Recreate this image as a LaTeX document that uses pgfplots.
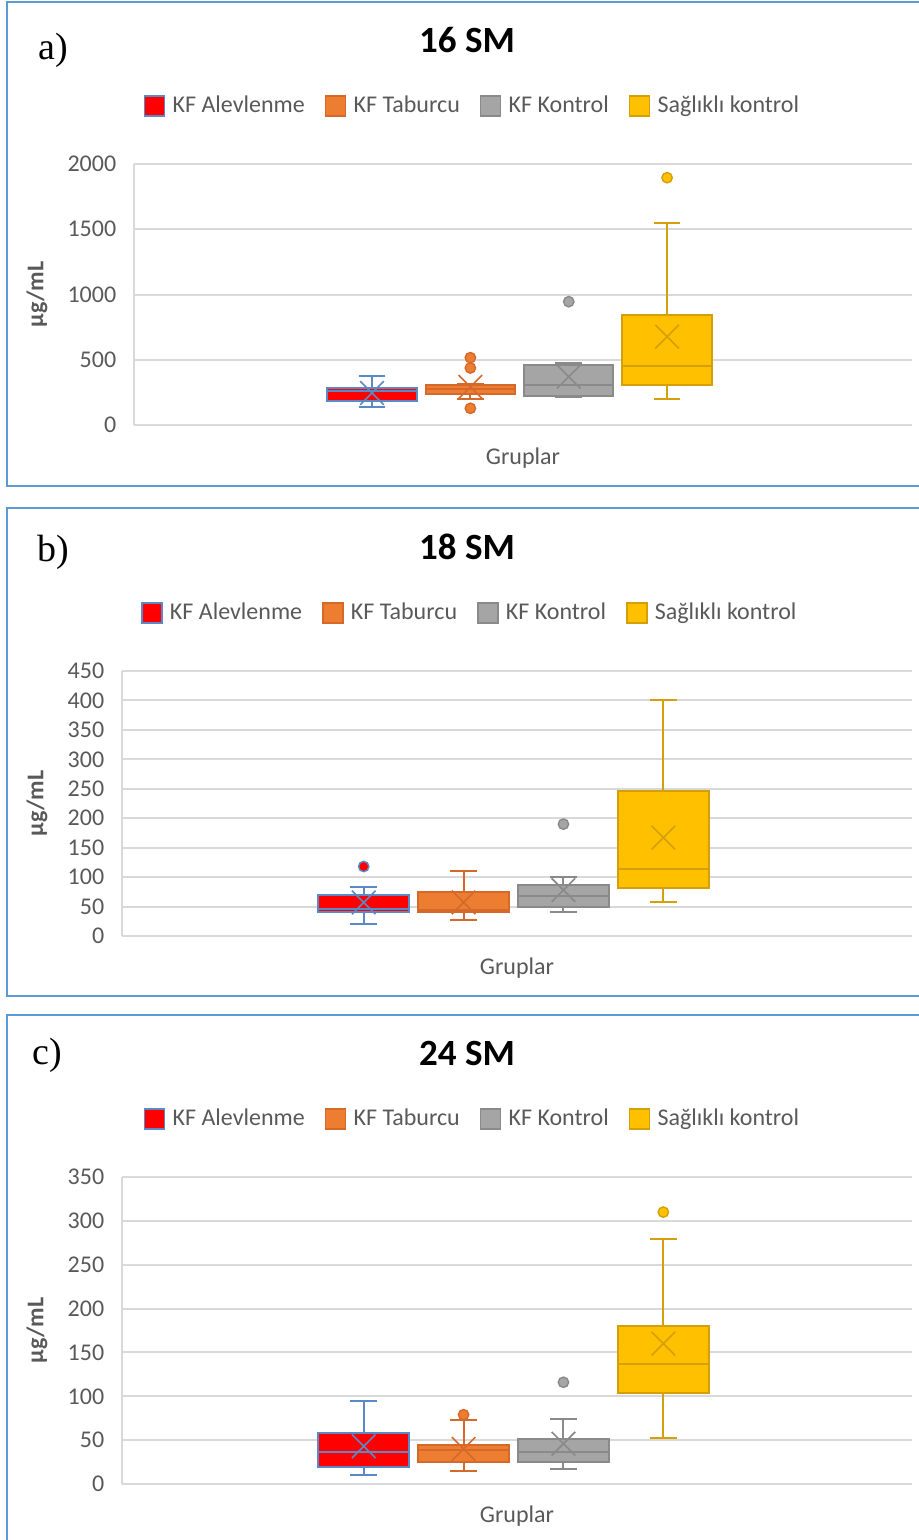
\documentclass[border=0pt]{standalone}
\usepackage{fontspec}
\setmainfont{Carlito}
\newfontfamily\seriffont{Liberation Serif}
\usepackage{pgfplots}
\pgfplotsset{compat=1.18}
\usepgfplotslibrary{statistics}
\usetikzlibrary{shapes.misc}
\definecolor{bRed}{HTML}{5A8AC6}
\definecolor{fRed}{HTML}{FF0000}
\definecolor{bOr}{HTML}{D4692A}
\definecolor{fOr}{HTML}{ED7D31}
\definecolor{bGr}{HTML}{8A8A8A}
\definecolor{fGr}{HTML}{A5A5A5}
\definecolor{bYe}{HTML}{D4A00A}
\definecolor{fYe}{HTML}{FFC000}
\definecolor{gridgray}{HTML}{D9D9D9}
\definecolor{textgray}{HTML}{595959}
\definecolor{frameblue}{HTML}{5B9BD5}
\pgfplotsset{
  bx/.style n args={2}{draw=#1, fill=#2, line width=1pt, solid, mark=*, mark size=2.6pt,
     mark options={draw=#1, fill=#2, line width=0.7pt}, forget plot},
  panel/.style={
    scale only axis, anchor=south west,
    xmin=-1.42, xmax=6.49, ymin=0, enlargelimits=false,
    axis x line=bottom, axis y line=left,
    axis line style={-, draw=gridgray, line width=1pt},
    xtick=\empty, major tick length=0pt,
    ymajorgrids, grid style={draw=gridgray, line width=1pt},
    tick label style={font=\fontsize{12}{14}\selectfont, text=textgray},
    /pgf/number format/assume math mode=true,
    /pgf/number format/1000 sep={},
    yticklabel style={inner sep=0pt, xshift=-8.7pt},
    xlabel={Gruplar}, ylabel={\bfseries µg/mL},
    label style={font=\fontsize{12}{14}\selectfont, text=textgray},
    xlabel style={anchor=center},
    ylabel style={anchor=center},
    title style={font=\fontsize{18.5}{22}\selectfont\bfseries, text=black, anchor=center},
    legend columns=4,
    legend style={draw=none, fill=none, font=\fontsize{12}{14}\selectfont, text=textgray, anchor=center,
       /tikz/every even column/.append style={column sep=8pt}},
    legend image code/.code={\path[draw=none, fill=none] (0pt,0pt) -- (12pt,0pt); \draw[##1] (0pt,-5pt) rectangle (10pt,5pt);},
    boxplot/draw direction=y,
    boxplot/box extend=0.91,
    boxplot/whisker extend=0.27,
    boxplot/draw/average/.code={\node[cross out, draw, fill=none, minimum size=11pt, inner sep=0pt, line width=0.8pt]
        at (boxplot box cs:\pgfplotsboxplotvalue{average},0.5) {};},
  },
}
\newcommand{\legendimgs}{%
  \addlegendimage{draw=bRed, fill=fRed, line width=0.8pt}\addlegendentry{KF Alevlenme}
  \addlegendimage{draw=bOr, fill=fOr, line width=0.8pt}\addlegendentry{KF Taburcu}
  \addlegendimage{draw=bGr, fill=fGr, line width=0.8pt}\addlegendentry{KF Kontrol}
  \addlegendimage{draw=bYe, fill=fYe, line width=0.8pt}\addlegendentry{Sağlıklı kontrol}
}
\begin{document}
\begin{tikzpicture}
\useasboundingbox (0,0) rectangle (459pt,-770pt);
\draw[frameblue, line width=0.75pt] (3.5pt,-1pt) rectangle (470pt,-243pt);
\draw[frameblue, line width=0.75pt] (3.5pt,-254pt) rectangle (470pt,-498pt);
\draw[frameblue, line width=0.75pt] (3.5pt,-507.5pt) rectangle (470pt,-780pt);

% ---------- a) 16 SM ----------
\begin{axis}[panel, at={(67pt,-212.5pt)}, width=389pt, height=130.5pt,
  ymax=2000, ytick distance=500,
  title={16 SM}, title style={at={(axis description cs:0.428,1.429)}},
  xlabel style={at={(axis description cs:0.5,-0.1264)}},
  ylabel style={at={(axis description cs:-0.1247,0.5)}},
  legend style={at={(axis description cs:0.4364,1.2222)}}]
\legendimgs
\addplot[bx={bRed}{fRed}, boxplot prepared={draw position=1, lower whisker=140, lower quartile=186, median=263, upper quartile=281, upper whisker=373, average=245}] coordinates {};
\addplot[bx={bOr}{fOr}, boxplot prepared={draw position=2, lower whisker=197, lower quartile=237, median=278, upper quartile=309, upper whisker=312, average=293}] coordinates {(0,516) (0,437) (0,128)};
\addplot[bx={bGr}{fGr}, boxplot prepared={draw position=3, lower whisker=212, lower quartile=225, median=306, upper quartile=462, upper whisker=473, average=370}] coordinates {(0,945)};
\addplot[bx={bYe}{fYe}, boxplot prepared={draw position=4, lower whisker=199, lower quartile=304, median=450, upper quartile=840, upper whisker=1548, average=677}] coordinates {(0,1895)};
\end{axis}

% ---------- b) 18 SM ----------
\begin{axis}[panel, at={(61pt,-468pt)}, width=395pt, height=132.5pt,
  ymax=450, ytick distance=50,
  title={18 SM}, title style={at={(axis description cs:0.4367,1.423)}},
  xlabel style={at={(axis description cs:0.5,-0.1208)}},
  ylabel style={at={(axis description cs:-0.1076,0.5)}},
  legend style={at={(axis description cs:0.4415,1.2189)}}]
\legendimgs
\addplot[bx={bRed}{fRed}, boxplot prepared={draw position=1, lower whisker=20, lower quartile=40, median=46, upper quartile=69, upper whisker=83, average=57}] coordinates {(0,118)};
\addplot[bx={bOr}{fOr}, boxplot prepared={draw position=2, lower whisker=27, lower quartile=40, median=45, upper quartile=74, upper whisker=110, average=57}] coordinates {};
\addplot[bx={bGr}{fGr}, boxplot prepared={draw position=3, lower whisker=40, lower quartile=49, median=68, upper quartile=87, upper whisker=100, average=78}] coordinates {(0,190)};
\addplot[bx={bYe}{fYe}, boxplot prepared={draw position=4, lower whisker=58, lower quartile=81, median=113, upper quartile=246, upper whisker=400, average=167}] coordinates {};
\end{axis}

% ---------- c) 24 SM ----------
\begin{axis}[panel, at={(61pt,-742pt)}, width=395pt, height=153.5pt,
  ymax=350, ytick distance=50,
  title={24 SM}, title style={at={(axis description cs:0.4367,1.362)}},
  xlabel style={at={(axis description cs:0.5,-0.1042)}},
  ylabel style={at={(axis description cs:-0.1076,0.5)}},
  legend style={at={(axis description cs:0.4449,1.189)}}]
\legendimgs
\addplot[bx={bRed}{fRed}, boxplot prepared={draw position=1, lower whisker=10, lower quartile=19, median=37, upper quartile=58.5, upper whisker=95, average=43}] coordinates {};
\addplot[bx={bOr}{fOr}, boxplot prepared={draw position=2, lower whisker=15, lower quartile=25, median=39, upper quartile=45, upper whisker=73, average=40}] coordinates {(0,79)};
\addplot[bx={bGr}{fGr}, boxplot prepared={draw position=3, lower whisker=17, lower quartile=25, median=37, upper quartile=51, upper whisker=74, average=46}] coordinates {(0,116)};
\addplot[bx={bYe}{fYe}, boxplot prepared={draw position=4, lower whisker=52, lower quartile=104, median=137, upper quartile=180, upper whisker=279, average=160}] coordinates {(0,310)};
\end{axis}

\node[font=\seriffont\fontsize{19}{22}\selectfont] at (26.5pt,-25pt) {a)};
\node[font=\seriffont\fontsize{19}{22}\selectfont] at (26.5pt,-276pt) {b)};
\node[font=\seriffont\fontsize{19}{22}\selectfont] at (23.5pt,-527.5pt) {c)};
\end{tikzpicture}
\end{document}
